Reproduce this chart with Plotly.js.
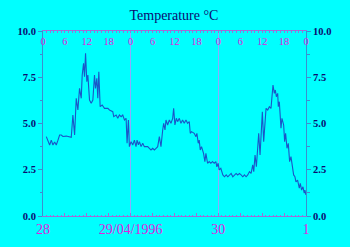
<!DOCTYPE html>
<html>
<head>
<meta charset="utf-8">
<script src="https://cdn.plot.ly/plotly-3.0.1.min.js"></script>
<style>html,body{margin:0;padding:0;background:#00ffff;}#chart{width:350px;height:247px;}</style>
</head>
<body>
<div id="chart"></div>
<script>
// hours since 28/04/1996 00:00
const hours = [0.91,1.82,2.28,2.73,3.19,3.64,4.10,4.55,5.00,5.46,6.37,7.28,7.74,8.19,8.65,9.10,9.56,10.01,10.47,10.74,11.10,11.38,11.65,12.01,12.29,12.74,13.20,13.65,14.10,14.38,14.74,15.00,15.29,15.65,16.20,16.84,17.75,18.20,19.11,19.38,20.02,20.48,20.93,21.39,21.84,22.30,22.75,23.02,23.39,23.66,24.12,24.57,25.03,25.48,25.76,26.12,26.40,26.85,27.31,27.76,28.67,29.13,29.58,30.04,30.49,30.95,31.40,31.86,32.31,32.77,33.04,33.40,33.68,34.13,34.59,35.04,35.50,35.77,36.13,36.50,36.86,37.32,37.77,38.23,38.68,39.14,39.59,40.05,40.32,40.68,41.41,41.87,42.14,42.50,42.78,43.05,43.41,43.96,44.32,44.60,45.05,45.50,45.96,46.41,46.87,47.33,47.60,47.96,48.24,48.69,49.24,49.69,50.15,50.60,51.06,51.51,51.97,52.42,52.88,53.33,53.79,54.24,54.70,55.15,55.61,56.06,56.52,56.97,57.43,57.70,58.06,58.43,58.79,59.06,59.43,59.70,60.06,60.43,60.79,61.07,61.52,61.98,62.43,62.61,62.98,63.34,63.61,63.89,64.25,64.43,64.71,65.16,65.43,65.89,66.16,66.43,66.80,67.16,67.53,67.89,68.35,68.62,68.98,69.26,69.71,70.17,70.44,70.80,71.17,71.53,71.71,71.99];
const temps = [4.29,3.84,4.10,3.84,4.00,3.84,4.10,4.38,4.38,4.30,4.32,4.30,4.25,5.46,4.38,6.36,5.73,6.90,6.36,7.62,8.25,7.53,8.79,7.26,7.62,6.27,6.09,6.27,7.62,6.90,7.44,6.36,7.80,5.91,6.00,5.82,5.82,5.73,5.64,5.37,5.46,5.28,5.46,5.37,5.46,5.19,5.28,3.93,5.19,3.75,4.02,3.84,4.10,3.75,4.10,3.84,4.02,3.75,3.93,3.75,3.75,3.66,3.57,3.66,3.57,3.66,3.75,4.29,3.75,4.65,5.01,4.65,5.19,4.92,5.19,5.01,5.28,5.82,4.92,5.28,5.10,5.28,5.01,5.19,5.01,5.19,5.01,5.10,4.47,4.56,4.47,4.29,4.47,3.93,4.10,3.57,3.75,3.39,2.94,3.39,2.85,2.94,2.85,2.94,2.85,2.94,2.66,2.85,2.49,2.58,2.22,2.12,2.22,2.12,2.22,2.30,2.12,2.22,2.30,2.22,2.30,2.22,2.12,2.22,2.12,2.22,2.40,2.30,2.76,2.40,3.30,2.66,3.57,4.47,3.30,4.29,5.64,4.02,5.46,5.82,5.73,5.91,5.82,6.36,7.08,6.63,6.81,6.45,6.63,5.91,6.18,4.74,5.28,4.92,4.02,4.47,3.66,3.93,2.94,3.21,2.66,2.22,2.12,1.85,1.94,1.50,1.76,1.40,1.58,1.23,1.40,1.14];
const dayTicks = ['1996-04-28','1996-04-29','1996-04-30','1996-05-01'];
const dayLabels = ['28','29/04/1996','30','1'];
const yTicks = [0,2.5,5,7.5,10];
const yLabels = ['0.0','2.5','5.0','7.5','10.0'];

function pad(n){return (n<10?'0':'')+n;}
const base = Date.UTC(1996,3,28);
const times = hours.map(h=>{const d=new Date(base+Math.round(h*3600000));
  return d.getUTCFullYear()+'-'+pad(d.getUTCMonth()+1)+'-'+pad(d.getUTCDate())+' '+pad(d.getUTCHours())+':'+pad(d.getUTCMinutes());});

const navy='#0c0c70', mag='#e020e0', axc='#3a8fd0', tickc='#9a70d8';
const xr=[dayTicks[0], dayTicks[3]];
const serif='Liberation Serif, Times New Roman, serif';
const ghost={type:'scatter',mode:'lines',x:times,y:temps,line:{color:'rgba(0,0,0,0)',width:0},hoverinfo:'skip',showlegend:false};

const data=[
 Object.assign({},ghost,{xaxis:'x2',yaxis:'y2'}),
 Object.assign({},ghost,{xaxis:'x3',yaxis:'y'}),
 {type:'scatter',mode:'lines',x:times,y:temps,xaxis:'x',yaxis:'y',line:{color:'#1a56c8',width:1.1},showlegend:false}
];
const yax={range:[0,10],tickvals:yTicks,ticktext:yLabels,ticks:'outside',ticklen:4,tickcolor:axc,
  showline:true,linecolor:axc,linewidth:1,showgrid:false,zeroline:false,
  tickfont:{family:serif,size:10.5,color:navy,weight:'bold'},
  minor:{tickvals:[1.25,3.75,6.25,8.75],ticks:'outside',ticklen:2.5,tickcolor:axc,showgrid:false}};
const layout={
 width:350,height:247,paper_bgcolor:'#00ffff',plot_bgcolor:'rgba(0,0,0,0)',
 margin:{l:43,r:44,t:31,b:31,pad:0},showlegend:false,
 title:{text:'Temperature °C',x:0.497,xanchor:'center',y:0.94,yanchor:'middle',font:{family:serif,size:14,color:navy}},
 xaxis:{type:'date',range:xr,tickmode:'array',tickvals:dayTicks,ticktext:dayLabels,ticks:'',
   showline:true,linecolor:tickc,linewidth:1,showgrid:true,gridcolor:'#90a8ff',gridwidth:1,zeroline:false,
   tickfont:{family:serif,size:14,color:mag}},
 xaxis3:{type:'date',range:xr,overlaying:'x',side:'bottom',tickmode:'linear',tick0:dayTicks[0],dtick:21600000,
   ticks:'inside',ticklen:3,tickcolor:tickc,showticklabels:false,showgrid:false,showline:false,zeroline:false,
   minor:{dtick:3600000,tick0:dayTicks[0],ticks:'inside',ticklen:1.5,tickcolor:tickc,showgrid:false}},
 xaxis2:{type:'date',range:xr,overlaying:'x',side:'top',anchor:'y2',tickmode:'linear',tick0:dayTicks[0],dtick:21600000,
   tickformat:'%-H',ticks:'inside',ticklen:1.5,tickcolor:tickc,ticklabelposition:'inside',ticklabeloverflow:'allow',
   ticklabelstandoff:4,
   showline:true,linecolor:tickc,linewidth:1,showgrid:false,zeroline:false,
   tickfont:{family:serif,size:10.5,color:mag},
   minor:{dtick:3600000,tick0:dayTicks[0],ticks:'inside',ticklen:1.5,tickcolor:tickc,showgrid:false}},
 yaxis:Object.assign({},yax),
 yaxis2:Object.assign({},yax,{overlaying:'y',side:'right',anchor:'x2'})
};
Plotly.newPlot('chart',data,layout,{staticPlot:true,displayModeBar:false});
</script>
</body>
</html>
